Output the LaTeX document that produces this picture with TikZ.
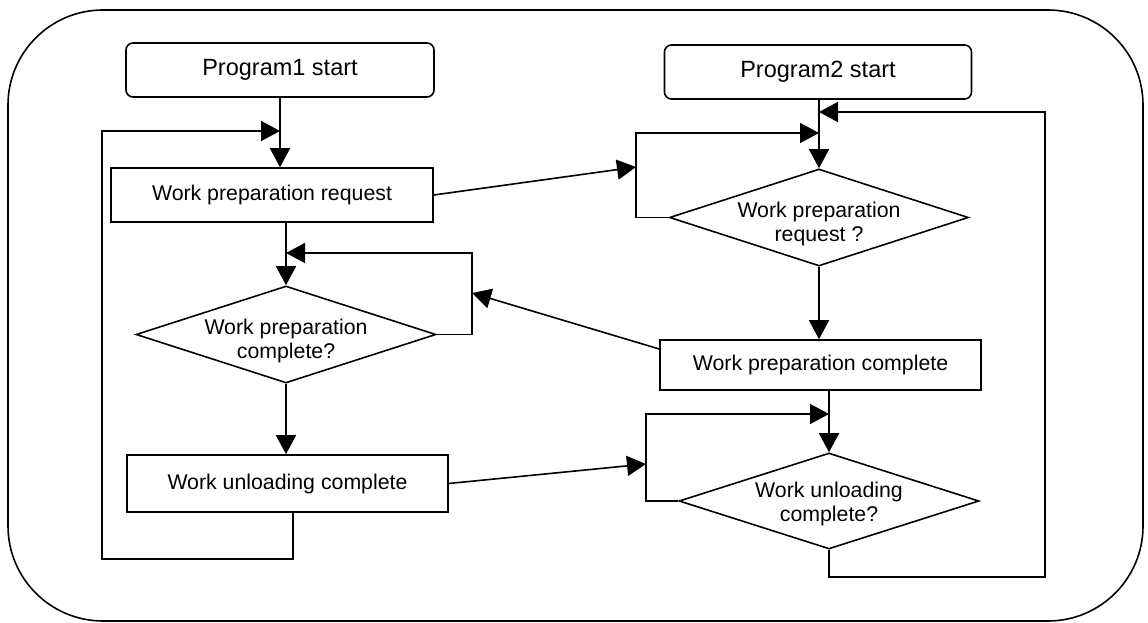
\documentclass[tikz,border=0pt]{standalone}
\usepackage{fontspec}
\setmainfont{Liberation Sans}
\usetikzlibrary{arrows.meta,shapes.geometric}
\begin{document}
\begin{tikzpicture}[x=1pt,y=-1pt,
  line width=1.6pt,
  arr/.style={-{Triangle[length=19pt,width=20pt]}},
  startbox/.style={draw,rounded corners=7pt,inner sep=0pt,font=\fontsize{23.5}{27}\selectfont},
  procbox/.style={draw,inner sep=0pt,font=\fontsize{21.3}{24}\selectfont},
  dia/.style={draw,diamond,inner sep=0pt,minimum width=300pt,minimum height=97pt},
  dtext/.style={align=center,inner sep=0pt,font=\fontsize{21.3}{24}\selectfont}
]
\useasboundingbox (0,0) rectangle (1148,623);
\draw[rounded corners=95pt] (8,10) rectangle (1143,621);

% nodes
\node[startbox,minimum width=308pt,minimum height=54pt] (p1) at (280,70) {Program1 start};
\node[startbox,minimum width=307pt,minimum height=54pt] (p2) at (818,72) {Program2 start};
\node[procbox,minimum width=322pt,minimum height=54pt] (wpr) at (272,195) {Work preparation request};
\node[dia] (d1) at (286,334.5) {};
\node[dtext] (t1) at ([yshift=-6pt]d1.center) {Work preparation\\complete?};
\node[procbox,minimum width=321pt,minimum height=57pt] (wuc) at (287.5,483.5) {Work unloading complete};
\node[dia,minimum width=299pt] (d2) at (819,217.5) {};
\node[dtext] (t2) at ([yshift=-6pt]d2.center) {Work preparation\\request ?};
\node[procbox,minimum width=321pt,minimum height=50pt] (wpc) at (820.5,365) {Work preparation complete};
\node[dia,minimum height=96pt] (d3) at (829,501) {};
\node[dtext] (t3) at ([yshift=-3pt]d3.center) {Work unloading\\complete?};

% coordinates
\coordinate (lb) at (293,559);
\coordinate (l1a) at (102,559);
\coordinate (l1b) at (102,131);
\coordinate (r1) at (472,253);
\coordinate (r1m) at (472,293);
\coordinate (m1) at (636,167);
\coordinate (m1t) at (636,133);
\coordinate (fb1) at (1045,577);
\coordinate (fb2) at (1045,112);
\coordinate (m2) at (646,464);
\coordinate (m2t) at (646,414);

% left program
\draw[arr] (p1.south) -- (p1.south |- wpr.north);
\draw[arr] (wuc.south -| lb) -- (lb) -- (l1a) -- (l1b) -- (p1.south |- l1b);
\draw[arr] (wpr.south -| d1.north) -- (d1.north);
\draw[arr] (d1.east) -- (d1.east -| r1) -- (r1) -- (d1.north |- r1);
\draw[arr] (d1.south) -- (d1.south |- wuc.north);

% right program
\draw[arr] (p2.south -| d2.north) -- (d2.north);
\draw[arr] (d2.west) -- (d2.west -| m1t) -- (m1t) -- (d2.north |- m1t);
\draw[arr] (d3.south) -- (d3.south |- fb1) -- (fb1) -- (fb2) -- (d2.north |- fb2);
\draw[arr] (d2.south) -- (d2.south |- wpc.north);
\draw[arr] (wpc.south -| d3.north) -- (d3.north);
\draw[arr] (d3.west) -- (d3.west -| m2t) -- (m2t) -- (d3.north |- m2t);

% cross connections
\draw[arr] (wpr.east) -- (m1);
\draw[arr] ([yshift=16pt]wpc.west) -- (r1m);
\draw[arr] (wuc.east) -- (m2);
\end{tikzpicture}
\end{document}
